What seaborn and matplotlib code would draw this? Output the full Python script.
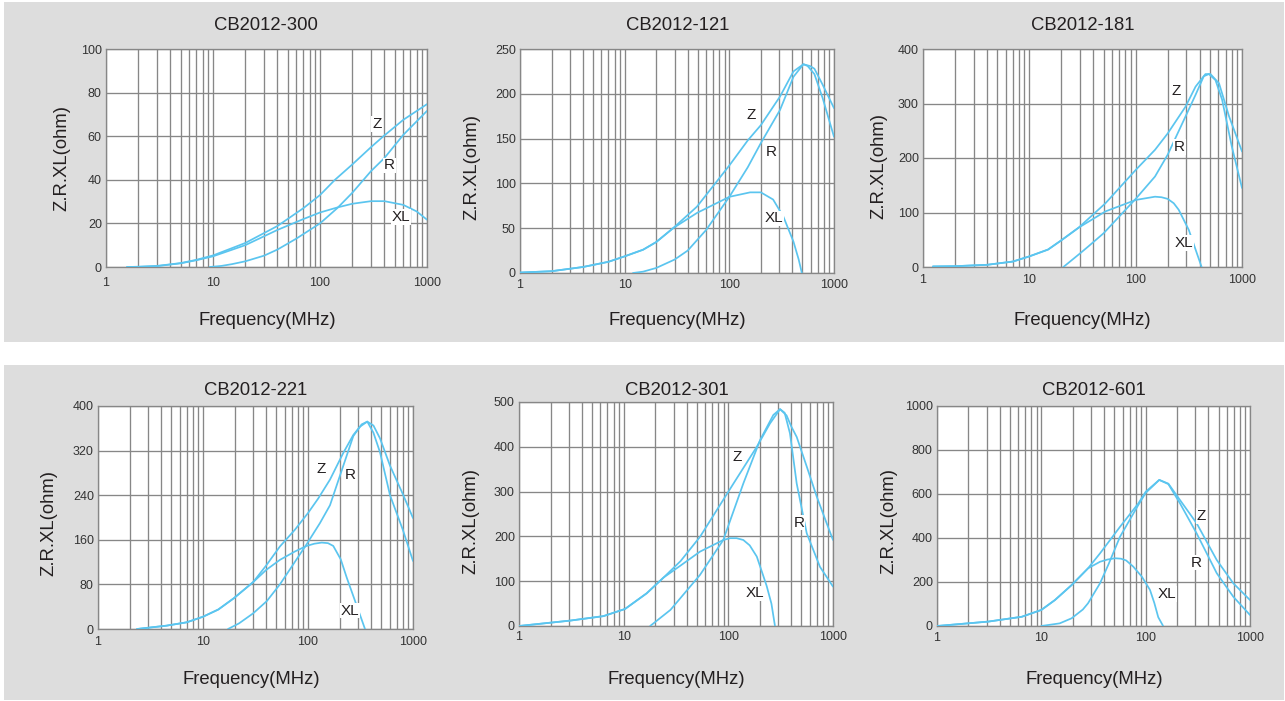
import matplotlib
matplotlib.use("Agg")
import matplotlib.pyplot as plt
import seaborn as sns
import pandas as pd
from matplotlib.patches import Rectangle
from matplotlib.ticker import FixedLocator, FixedFormatter, NullFormatter

sns.set_style("white")
plt.rcParams["font.family"] = ["Liberation Sans", "DejaVu Sans"]

# ---------------- data ----------------
titles = ["CB2012-300", "CB2012-121", "CB2012-181",
          "CB2012-221", "CB2012-301", "CB2012-601"]
y_ticks = [[0, 20, 40, 60, 80, 100],
           [0, 50, 100, 150, 200, 250],
           [0, 100, 200, 300, 400],
           [0, 80, 160, 240, 320, 400],
           [0, 100, 200, 300, 400, 500],
           [0, 200, 400, 600, 800, 1000]]
x_ticks = [1, 10, 100, 1000]
x_tick_labels = ["1", "10", "100", "1000"]

# CB2012-300
p300_z_f = [1.57, 2, 3, 5, 7, 10, 20, 40, 70, 100, 138, 200, 300, 392, 600, 1000]
p300_z_v = [0, 0.1, 0.5, 1.8, 3.3, 5.3, 11, 18.8, 27, 33, 40, 47, 55, 60, 67.5, 74.7]
p300_r_f = [9.3, 12, 15, 20, 30, 40, 60, 100, 145, 200, 300, 400, 600, 1000]
p300_r_v = [0, 0.5, 1.3, 2.6, 5.2, 8, 13, 20, 27, 34, 44, 50, 60.6, 71.6]
p300_xl_f = [1.57, 2, 3, 5, 7, 10, 20, 40, 70, 100, 145, 200, 300, 400, 600, 800, 1000]
p300_xl_v = [0, 0.1, 0.4, 1.7, 3.1, 4.9, 10, 17, 22, 25, 27.3, 29, 30.2, 30.2, 28.5, 25.5, 21.7]

# CB2012-121
p121_z_f = [1, 2, 4, 7, 10, 15, 20, 29, 49, 70, 100, 150, 200, 305, 410, 510, 590, 650, 780, 1000]
p121_z_v = [0.5, 2, 6.7, 12.5, 18.6, 26, 34.5, 50, 74, 97, 120, 148, 165, 197, 225, 233, 231, 228, 210, 184]
p121_r_f = [12, 15, 20, 30, 40, 60, 100, 150, 200, 305, 410, 510, 560, 650, 780, 1000]
p121_r_v = [0, 1.5, 5.6, 15, 25, 48, 85, 118, 145, 182, 219, 233, 231, 222, 195, 152]
p121_xl_f = [1, 2, 4, 7, 10, 15, 20, 29, 49, 100, 158, 200, 262, 328, 410, 460, 493]
p121_xl_v = [0.5, 2, 6.7, 12.5, 18.6, 26, 34.5, 50, 67, 85, 90, 90, 82, 63, 35, 15, 0]

# CB2012-181
p181_z_f = [1.24, 2, 4, 7, 10, 15, 20, 29, 52, 100, 152, 200, 294, 366, 453, 505, 608, 757, 1000]
p181_z_v = [1, 1.5, 4, 10, 19.5, 32, 49, 72, 117, 178, 215, 245, 294, 331, 354, 354, 337, 276, 212]
p181_r_f = [20.9, 30, 36, 50, 100, 152, 200, 294, 366, 437, 488, 563, 650, 802, 1000]
p181_r_v = [0, 25, 38, 62, 125, 166, 206, 276, 316, 350, 354, 343, 307, 221, 145]
p181_xl_f = [1.24, 2, 4, 7, 10, 15, 20, 29, 52, 100, 152, 175, 200, 228, 254, 316, 366, 417]
p181_xl_v = [1, 1.5, 4, 10, 19.5, 32, 49, 72, 102, 123, 129, 128, 125, 117, 105, 68, 32, 0]

# CB2012-221
p221_z_f = [2.35, 4.5, 7, 10, 14, 19.6, 30, 40, 54, 75, 100, 125, 162, 217, 270, 313, 367, 420, 485, 604, 800, 1000]
p221_z_v = [0, 6, 12, 22, 35, 55, 84, 114, 148, 178, 208, 234, 268, 316, 348, 363, 372, 365, 342, 293, 242, 199]
p221_r_f = [17.3, 22, 30, 40.5, 54, 97, 130, 162, 217, 270, 324, 367, 420, 485, 604, 800, 1000]
p221_r_v = [0, 10, 28, 50, 80, 152, 190, 222, 293, 346, 367, 372, 352, 317, 240, 178, 122]
p221_xl_f = [2.35, 4.5, 7, 10, 14, 19.6, 30, 40, 54, 75, 97, 115, 135, 155, 174, 205, 234, 291, 349]
p221_xl_v = [0, 6, 12, 22, 35, 55, 84, 106, 124, 139, 149, 153, 155, 154, 149, 125, 92, 42, 0]

# CB2012-301
p301_z_f = [1, 3.07, 6.4, 10.3, 16.6, 24, 35, 53.6, 112, 187, 250, 312, 360, 400, 450, 561, 699, 871, 1000]
p301_z_v = [0, 12, 22, 38, 73, 108, 145, 199, 318, 400, 452, 484, 470, 445, 422, 356, 289, 229, 192]
p301_r_f = [17.9, 28, 53.6, 89.5, 139, 201, 269, 312, 345, 388, 450, 561, 751, 1000]
p301_r_v = [0, 36, 114, 192, 318, 415, 471, 484, 476, 430, 318, 207, 132, 88]
p301_xl_f = [1, 3.07, 6.4, 10.3, 16.6, 24, 35, 53.6, 89.5, 104, 120, 139, 160, 187, 232, 258, 279]
p301_xl_v = [0, 12, 22, 38, 73, 108, 135, 166, 192, 196, 196, 192, 180, 155, 90, 50, 0]

# CB2012-601
p601_z_f = [1, 3.1, 6.5, 10, 13.5, 19.5, 28, 36.5, 56.8, 85, 100, 135, 165, 213, 308, 480, 692, 1000]
p601_z_v = [0, 20, 42, 73, 118, 186, 262, 330, 451, 557, 610, 664, 647, 573, 467, 300, 194, 118]
p601_r_f = [10, 15, 19.5, 25, 28, 36.5, 44, 56.8, 85, 100, 135, 165, 213, 308, 480, 692, 1000]
p601_r_v = [0, 12, 35, 75, 103, 194, 280, 406, 550, 605, 664, 645, 558, 421, 240, 133, 50]
p601_xl_f = [1, 3.1, 6.5, 10, 13.5, 19.5, 28, 36.5, 43, 50.8, 58, 65, 76, 92, 110, 121, 132, 147]
p601_xl_v = [0, 20, 42, 73, 118, 186, 262, 292, 302, 308, 306, 298, 270, 224, 164, 105, 40, 0]

curve_names = ["Z", "R", "XL"]
panel_curves = [
    [(p300_z_f, p300_z_v), (p300_r_f, p300_r_v), (p300_xl_f, p300_xl_v)],
    [(p121_z_f, p121_z_v), (p121_r_f, p121_r_v), (p121_xl_f, p121_xl_v)],
    [(p181_z_f, p181_z_v), (p181_r_f, p181_r_v), (p181_xl_f, p181_xl_v)],
    [(p221_z_f, p221_z_v), (p221_r_f, p221_r_v), (p221_xl_f, p221_xl_v)],
    [(p301_z_f, p301_z_v), (p301_r_f, p301_r_v), (p301_xl_f, p301_xl_v)],
    [(p601_z_f, p601_z_v), (p601_r_f, p601_r_v), (p601_xl_f, p601_xl_v)],
]
# curve label anchor points (freq, value) for Z, R, XL
label_pos = [
    [(339, 65.7), (447, 46.6), (574, 23)],
    [(163, 176), (250, 134.5), (267, 61)],
    [(240, 323), (258, 220), (283, 44)],
    [(135, 287), (251, 277), (251, 33)],
    [(122, 377), (473, 231), (180, 73)],
    [(344, 500), (308, 288), (159, 145)],
]

# ---------------- layout (pixels) ----------------
W, H = 1285, 701
axes_px = [(106, 49, 427, 267), (520, 49, 834, 273), (923, 49, 1242, 267),
           (98, 406, 413, 629), (519, 402, 833, 626), (937, 406, 1250, 626)]
title_px = [(266, 30), (678, 29.5), (1083, 29.5), (256, 395.5), (677, 395), (1094, 395)]
xlabel_px = [(267, 325), (677, 325), (1082, 325), (251, 684), (676, 684), (1094, 684)]
ylabel_px = [(66.5, 158), (476.5, 167.5), (883, 166), (53, 522.5), (475, 521), (893, 521)]
xtick_pad = [7.5, 4.2, 4.7, 4.7, 3.5, 4.2]

LINE = "#5bc5ef"
GRID = "#878787"
TXT = "#231f20"

fig = plt.figure(figsize=(W / 100, H / 100), dpi=100)
fig.patch.set_facecolor("white")
for (y0, y1) in [(2, 342), (365, 700)]:
    fig.patches.append(Rectangle((4 / W, 1 - y1 / H), 1280 / W, (y1 - y0) / H,
                                 transform=fig.transFigure, facecolor="#dddddd",
                                 edgecolor="none", zorder=-10))

minor = [m * 10 ** k for k in range(3) for m in range(2, 10)]

for i in range(6):
    l, t, r, b = axes_px[i]
    ax = fig.add_axes([l / W, 1 - b / H, (r - l) / W, (b - t) / H])
    ax.set_facecolor("white")
    ax.set_xscale("log")
    rows = []
    for name, (fs, vs) in zip(curve_names, panel_curves[i]):
        for f, v in zip(fs, vs):
            rows.append({"freq": f, "value": v, "curve": name})
    df = pd.DataFrame(rows)
    sns.lineplot(data=df, x="freq", y="value", units="curve", estimator=None,
                 sort=False, color=LINE, lw=1.25, ax=ax, legend=False, zorder=3)
    ax.set_xlim(1, 1000)
    ax.set_ylim(0, y_ticks[i][-1])
    ax.xaxis.set_major_locator(FixedLocator(x_ticks))
    ax.xaxis.set_major_formatter(FixedFormatter(x_tick_labels))
    ax.xaxis.set_minor_locator(FixedLocator(minor))
    ax.xaxis.set_minor_formatter(NullFormatter())
    ax.yaxis.set_major_locator(FixedLocator(y_ticks[i]))
    ax.yaxis.set_major_formatter(FixedFormatter([str(v) for v in y_ticks[i]]))
    ax.tick_params(axis="both", which="both", length=0, labelsize=9, labelcolor="#333333")
    ax.tick_params(axis="x", pad=xtick_pad[i])
    ax.tick_params(axis="y", pad=3)
    ax.set_axisbelow(True)
    ax.grid(True, which="both", axis="x", color=GRID, lw=0.95)
    ax.grid(True, which="major", axis="y", color=GRID, lw=0.95)
    for s in ax.spines.values():
        s.set_color(GRID)
        s.set_linewidth(0.95)
    ax.set_xlabel("")
    ax.set_ylabel("")
    for name, (fx, vy) in zip(curve_names, label_pos[i]):
        ax.text(fx, vy, name, fontsize=11, color=TXT, ha="center", va="center", zorder=5,
                bbox=dict(facecolor="white", edgecolor="none", pad=0.5))

    tx, ty = title_px[i]
    fig.text(tx / W, 1 - ty / H, titles[i], fontsize=13.3, color=TXT, ha="center", va="baseline")
    xx, xy = xlabel_px[i]
    fig.text(xx / W, 1 - xy / H, "Frequency(MHz)", fontsize=13.3, color=TXT, ha="center", va="baseline")
    yx, yy = ylabel_px[i]
    fig.text(yx / W, 1 - yy / H, "Z.R.XL(ohm)", fontsize=13.3, color=TXT, ha="center", va="baseline",
             rotation=90, rotation_mode="anchor")

fig.savefig("out.png", dpi=100, facecolor="white")
